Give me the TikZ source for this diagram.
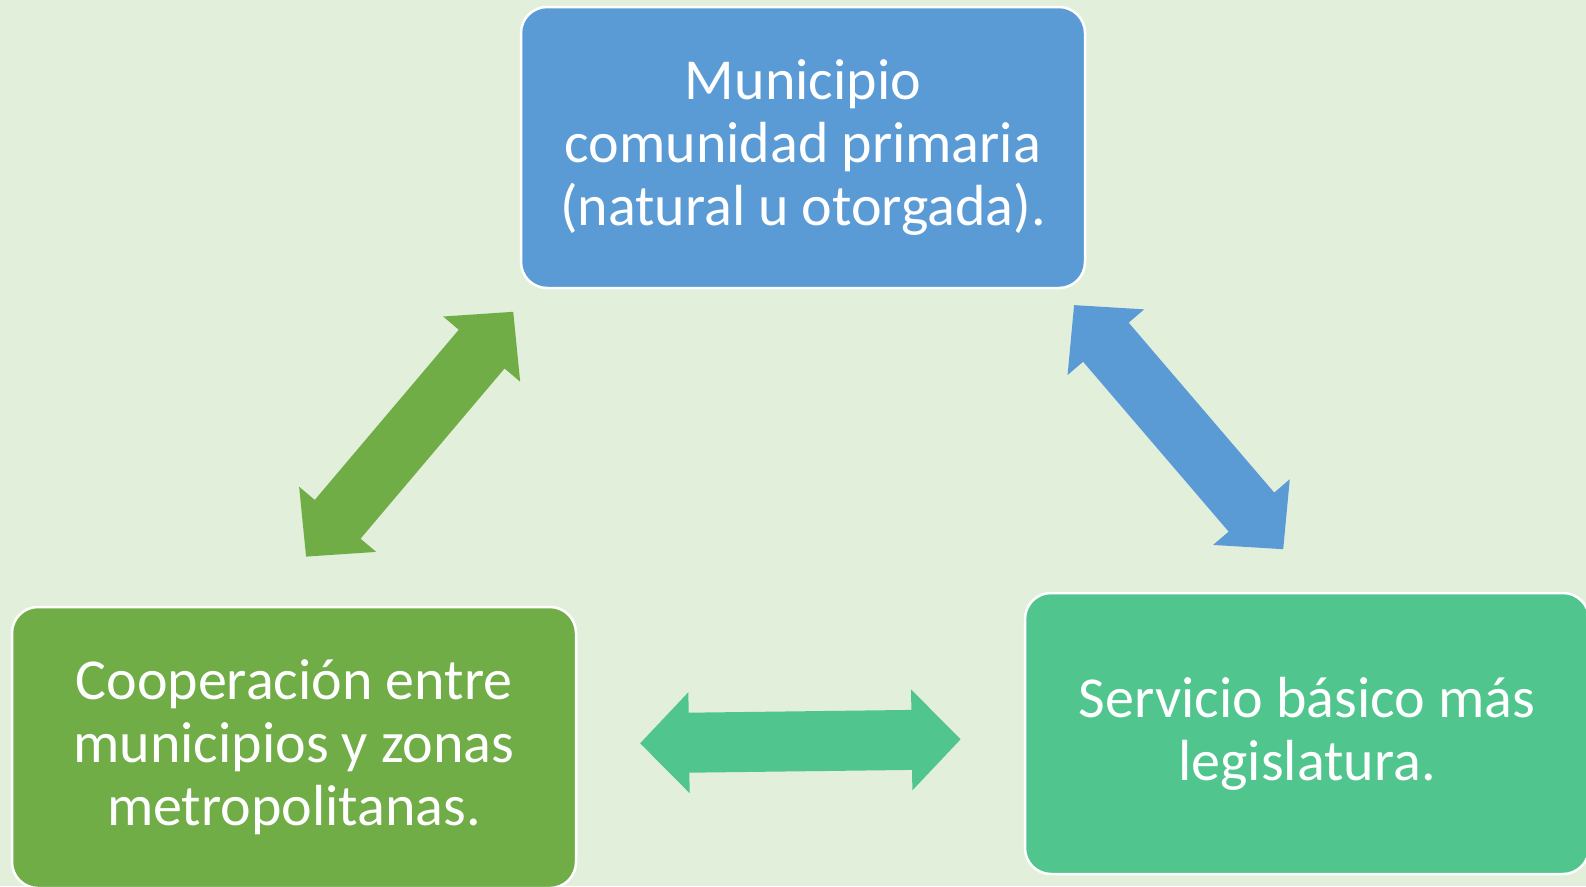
\documentclass[tikz,border=0pt]{standalone}
\usepackage{fontspec}
\setmainfont{Carlito}
\usetikzlibrary{arrows.meta,positioning}

\definecolor{bgpale}{HTML}{E2EFDA}
\definecolor{boxblue}{HTML}{5B9BD5}
\definecolor{boxgreen}{HTML}{70AD47}
\definecolor{boxteal}{HTML}{50C58E}

\tikzset{
  topic/.style={rectangle, rounded corners=26pt, draw=white, line width=2.5pt,
    minimum width=564pt, minimum height=281pt, align=center, text=white,
    font=\fontsize{58}{63}\selectfont},
  dblarrow/.style={line width=60pt,
    {Triangle[length=49pt,width=98pt]}-{Triangle[length=49pt,width=98pt]}}
}

\begin{document}
\begin{tikzpicture}[x=1pt,y=-1pt]
  \fill[bgpale] (0,0) rectangle (1586,886);
  \useasboundingbox (0,0) rectangle (1586,886);

  \node[topic, fill=boxblue]  (municipio)   at (803,147.5)  {Municipio\\comunidad primaria\\(natural u otorgada).};
  \node[topic, fill=boxgreen] (cooperacion) at (294,747.5)  {Cooperación entre\\municipios y zonas\\metropolitanas.};
  \node[topic, fill=boxteal]  (servicio)    at (1307,733.5) {Servicio básico más\\legislatura.};

  % arrow ends
  \coordinate (coop top)  at (513.3,311.7);
  \coordinate (coop low)  at (306,556.7);
  \coordinate (mun right) at (1074,305);
  \coordinate (serv top)  at (1283.3,549.3);
  \coordinate (coop side) at (640,743.3);
  \coordinate (serv side) at (960.7,739.3);

  \draw[dblarrow, boxgreen] (coop low) -- (coop top);
  \draw[dblarrow, boxblue]  (mun right) -- (serv top);
  \draw[dblarrow, boxteal]  (coop side) -- (serv side);
\end{tikzpicture}
\end{document}
